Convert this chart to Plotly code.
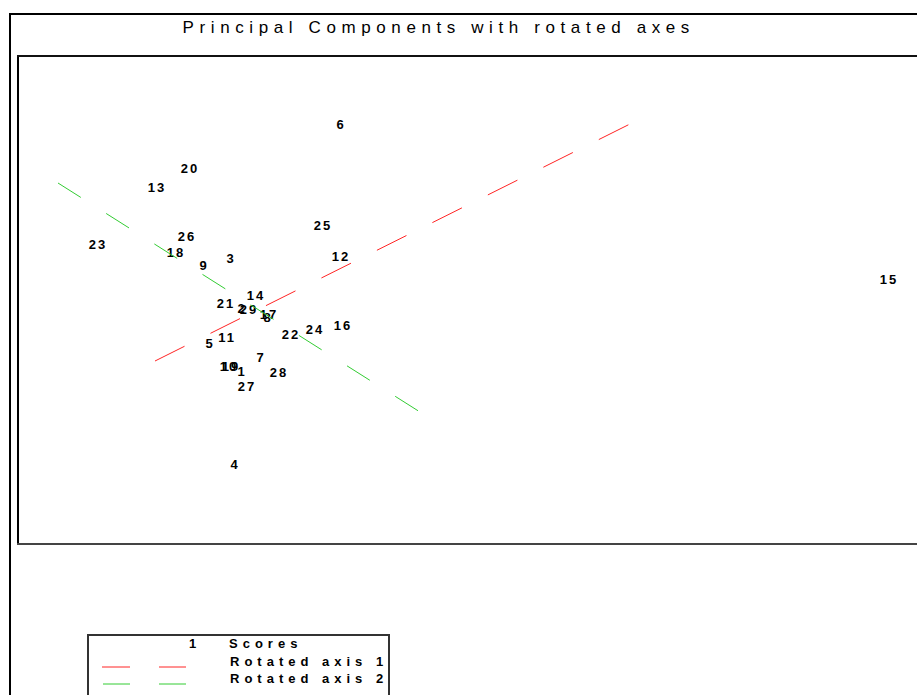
import plotly.graph_objects as go

# ---- data (principal component scores) ----
labels = ["1", "2", "3", "4", "5", "6", "7", "8", "9", "10",
          "11", "12", "13", "14", "15", "16", "17", "18", "19", "20",
          "21", "22", "23", "24", "25", "26", "27", "28", "29"]
pc1 = [-0.32, -0.32, -0.54, -0.46, -0.96, 1.66, 0.06, 0.20, -1.08, -0.58,
       -0.62, 1.66, -2.02, -0.04, 12.62, 1.70, 0.22, -1.64, -0.54, -1.36,
       -0.64, 0.66, -3.20, 1.14, 1.30, -1.42, -0.22, 0.42, -0.18]
pc2 = [-1.26, 0.00, 1.00, -3.12, -0.70, 3.68, -0.98, -0.18, 0.86, -1.16,
       -0.58, 1.04, 2.42, 0.26, 0.58, -0.34, -0.12, 1.12, -1.16, 2.80,
       0.10, -0.52, 1.28, -0.42, 1.66, 1.44, -1.56, -1.28, -0.02]

axis1_x = [-2.06, 7.44]
axis1_y = [-1.02, 3.72]
axis2_x = [-4.00, 3.24]
axis2_y = [2.54, -2.04]

title_text = "Principal Components with rotated axes"
legend_names = ["Scores", "Rotated axis 1", "Rotated axis 2"]

W, H = 917, 695
L, T, B = 17, 55, 544  # plot area in pixels


def px(x):
    return (x - L) / (W - L)


def py(y):
    return (B - y) / (B - T)


FONT = "Liberation Sans, Arial, sans-serif"

fig = go.Figure()
fig.add_trace(go.Scatter(
    x=pc1, y=pc2, mode="text", text=labels, textposition="middle center",
    textfont=dict(family=FONT, size=13, color="#000000", weight="bold"),
    showlegend=False, hoverinfo="text"))
fig.add_trace(go.Scatter(
    x=axis1_x, y=axis1_y, mode="lines",
    line=dict(color="#ff2424", width=1, dash="33px,29px"), showlegend=False))
fig.add_trace(go.Scatter(
    x=axis2_x, y=axis2_y, mode="lines",
    line=dict(color="#33cc33", width=1, dash="27px,30px"), showlegend=False))

shapes = [
    # outer frame
    dict(type="line", xref="paper", yref="paper", x0=px(10), x1=px(10), y0=py(13), y1=py(700),
         line=dict(color="#000000", width=2)),
    dict(type="line", xref="paper", yref="paper", x0=px(10), x1=px(930), y0=py(14), y1=py(14),
         line=dict(color="#000000", width=2)),
    # plot box
    dict(type="line", xref="paper", yref="paper", x0=px(18), x1=px(18), y0=py(55), y1=py(545),
         line=dict(color="#000000", width=2)),
    dict(type="line", xref="paper", yref="paper", x0=px(17), x1=px(930), y0=py(56), y1=py(56),
         line=dict(color="#111111", width=2)),
    dict(type="line", xref="paper", yref="paper", x0=px(17), x1=px(930), y0=py(544), y1=py(544),
         line=dict(color="#444444", width=2)),
    # legend box
    dict(type="rect", xref="paper", yref="paper", x0=px(88), x1=px(389), y0=py(635), y1=py(705),
         line=dict(color="#333333", width=2), fillcolor="rgba(0,0,0,0)"),
    # legend samples
    dict(type="line", xref="paper", yref="paper", x0=px(102), x1=px(130), y0=py(667), y1=py(667),
         line=dict(color="#ff2424", width=1)),
    dict(type="line", xref="paper", yref="paper", x0=px(159), x1=px(186), y0=py(667), y1=py(667),
         line=dict(color="#ff2424", width=1)),
    dict(type="line", xref="paper", yref="paper", x0=px(103), x1=px(130), y0=py(684), y1=py(684),
         line=dict(color="#33cc33", width=1)),
    dict(type="line", xref="paper", yref="paper", x0=px(159), x1=px(186), y0=py(684), y1=py(684),
         line=dict(color="#33cc33", width=1)),
]

annotations = [
    dict(text=title_text, xref="paper", yref="paper", x=px(439), y=py(27),
         xanchor="center", yanchor="middle", showarrow=False,
         font=dict(family=FONT, size=17, color="#000000")),
    dict(text="1", xref="paper", yref="paper", x=px(192), y=py(643),
         xanchor="center", yanchor="middle", showarrow=False,
         font=dict(family=FONT, size=13, color="#000000", weight="bold")),
]
for name, yy, cx in zip(legend_names, [643, 661, 678], [265, 309, 309]):
    annotations.append(dict(text=name, xref="paper", yref="paper", x=px(cx), y=py(yy),
                            xanchor="center", yanchor="middle", showarrow=False,
                            font=dict(family=FONT, size=13, color="#000000", weight="bold")))

fig.update_layout(
    width=W, height=H,
    margin=dict(l=L, r=0, t=T, b=H - B, pad=0),
    paper_bgcolor="#ffffff", plot_bgcolor="#ffffff",
    xaxis=dict(range=[-4.82, 13.18], showgrid=False, zeroline=False,
               showticklabels=False, ticks="", showline=False, fixedrange=True),
    yaxis=dict(range=[-4.68, 5.10], showgrid=False, zeroline=False,
               showticklabels=False, ticks="", showline=False, fixedrange=True),
    shapes=shapes, annotations=annotations,
    showlegend=False,
)

post = """
document.body.style.margin = '0px';
document.body.style.overflow = 'hidden';
var gd = document.getElementById('{plot_id}');
function spacing(){
  gd.querySelectorAll('.textpoint text').forEach(function(t){ t.style.letterSpacing = '2px'; });
  gd.querySelectorAll('.annotation').forEach(function(a){
    var i = a.getAttribute('data-index');
    var t = a.querySelector('text');
    if (!t) return;
    if (i === '0') { t.style.letterSpacing = '5.6px'; }
    else if (i === '1') { t.style.letterSpacing = '0px'; }
    else { t.style.letterSpacing = '5px'; }
  });
}
spacing();
gd.on('plotly_afterplot', spacing);
"""

fig.write_html("out.html", post_script=post, config={"displayModeBar": False})
